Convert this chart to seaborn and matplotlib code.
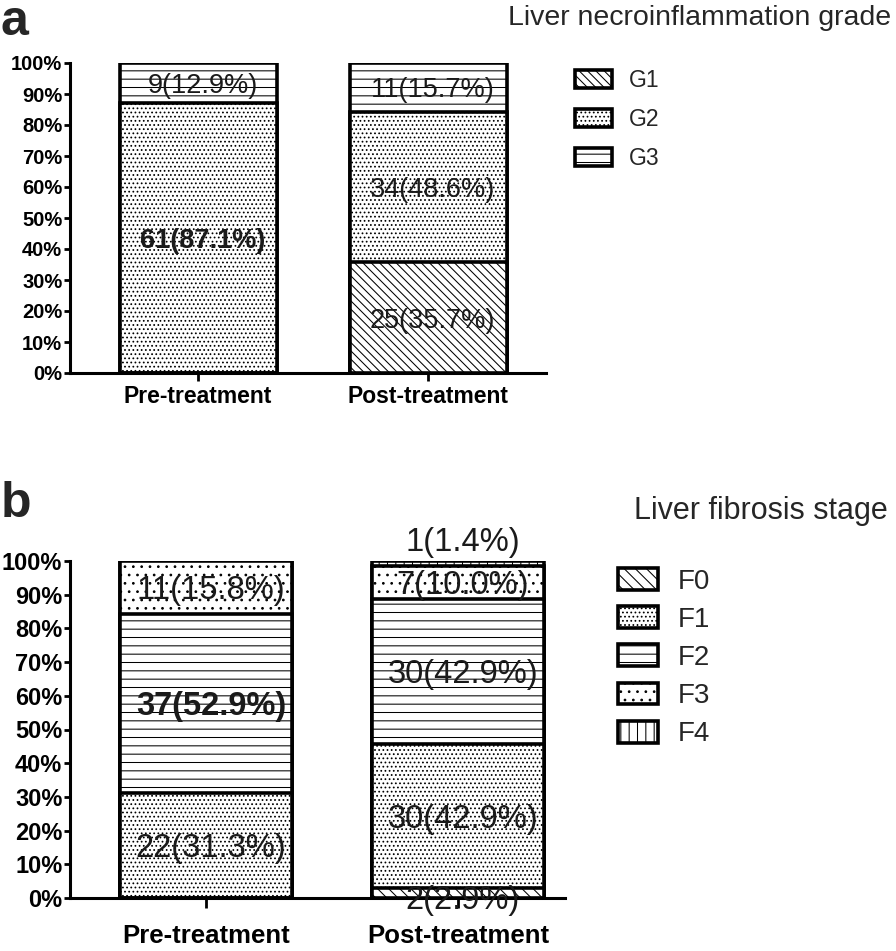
import numpy as np
import pandas as pd
import matplotlib
matplotlib.use("Agg")
import matplotlib.pyplot as plt
from matplotlib.patches import Patch
import seaborn as sns

# ---------------- data ----------------
groups = ["Pre-treatment", "Post-treatment"]

grade_layers = ["G1", "G2", "G3"]
grade_counts = {"G1": [0, 25], "G2": [61, 34], "G3": [9, 11]}
grade_pcts = {"G1": [0.0, 35.7], "G2": [87.1, 48.6], "G3": [12.9, 15.7]}

fib_layers = ["F0", "F1", "F2", "F3", "F4"]
fib_counts = {"F0": [0, 2], "F1": [22, 30], "F2": [37, 30], "F3": [11, 7], "F4": [0, 1]}
fib_pcts = {"F0": [0.0, 2.9], "F1": [31.3, 42.9], "F2": [52.9, 42.9], "F3": [15.8, 10.0], "F4": [0.0, 1.4]}

yticks = list(range(0, 101, 10))
ytick_labels = [f"{v}%" for v in yticks]

grade_title = "Liver necroinflammation grade"
fib_title = "Liver fibrosis stage"

# ---------------- style ----------------
sns.set_style("ticks")
plt.rcParams["font.family"] = ["Liberation Sans", "DejaVu Sans"]
plt.rcParams["hatch.linewidth"] = 0.75
plt.rcParams["hatch.color"] = "black"

hatches_grade = {"G1": "\\\\\\\\", "G2": "....", "G3": "--"}
hatches_fib = {"F0": "\\\\\\", "F1": "....", "F2": "--", "F3": "..", "F4": "||"}

W, H = 896, 951
fig = plt.figure(figsize=(W / 100, H / 100), dpi=100)


def fx(px):
    return px / W


def fy(py):
    return 1 - py / H


ax_a = fig.add_axes([fx(70), fy(373), fx(546 - 70), (373 - 63) / H])
ax_b = fig.add_axes([fx(70), fy(898), fx(565 - 70), (898 - 561) / H])

EDGE_LW = 2.6


def stacked(ax, layers, counts, pcts, hatches, width, label_fs):
    pct_arr = np.array([pcts[l] for l in layers])  # layers x groups
    cum = np.cumsum(pct_arr, axis=0)
    cum = cum / cum[-1] * 100  # labels are rounded; tops are 100 %
    # draw from the top cumulative down so lower segments overlay
    for i in range(len(layers) - 1, -1, -1):
        df = pd.DataFrame({"group": groups, "value": cum[i]})
        sns.barplot(data=df, x="group", y="value", order=groups, color="white",
                    edgecolor="black", linewidth=EDGE_LW, hatch=hatches[layers[i]],
                    width=width, saturation=1, errorbar=None, ax=ax, zorder=2)
    for g in range(len(groups)):
        col = pct_arr[:, g]
        largest = int(np.argmax(col))
        for i, l in enumerate(layers):
            c = counts[l][g]
            if c == 0:
                continue
            bottom = cum[i - 1][g] if i > 0 else 0.0
            top = cum[i][g]
            if top - bottom < 2.0:
                y = top + 5.5
            elif top - bottom < 4.0 and i == 0:
                y = bottom - 0.6
            else:
                y = (bottom + top) / 2 - 1.0
            bold = (g == 0 and i == largest)
            txt = f"{c}({pcts[l][g]:.1f}%)"
            ax.text(g + 0.02, y, txt, ha="center", va="center", fontsize=label_fs,
                    fontweight="bold" if bold else "normal", color="#1a1a1a",
                    zorder=5, clip_on=False)


def style_axis(ax, xlim, ytick_fs, xtick_fs, xlen, xpad):
    ax.set_ylim(0, 100)
    ax.set_xlim(*xlim)
    ax.set_yticks(yticks)
    ax.set_yticklabels(ytick_labels, fontsize=ytick_fs, fontweight="bold")
    ax.set_xticks(range(len(groups)))
    ax.set_xticklabels(groups, fontsize=xtick_fs, fontweight="bold")
    ax.set_xlabel("")
    ax.set_ylabel("")
    for s in ["top", "right"]:
        ax.spines[s].set_visible(False)
    for s in ["left", "bottom"]:
        ax.spines[s].set_linewidth(2.2)
        ax.spines[s].set_color("black")
        ax.spines[s].set_zorder(1)
    ax.tick_params(axis="y", length=4, width=2.0, pad=1.5, colors="black")
    ax.tick_params(axis="x", length=xlen, width=2.0, pad=xpad, colors="black")
    ax.set_facecolor("white")


stacked(ax_a, grade_layers, grade_counts, grade_pcts, hatches_grade, width=0.683, label_fs=19.5)
style_axis(ax_a, (-0.557, 1.513), ytick_fs=14.5, xtick_fs=16.5, xlen=6, xpad=2.5)

stacked(ax_b, fib_layers, fib_counts, fib_pcts, hatches_fib, width=0.68, label_fs=23.5)
style_axis(ax_b, (-0.54, 1.425), ytick_fs=17, xtick_fs=18.5, xlen=7, xpad=12)

# panel letters
fig.text(fx(1), fy(35), "a", fontsize=36, fontweight="bold", ha="left", va="baseline")
fig.text(fx(1), fy(517), "b", fontsize=36, fontweight="bold", ha="left", va="baseline")

# titles
fig.text(fx(891), fy(25), grade_title, fontsize=20.5, ha="right", va="baseline")
fig.text(fx(888), fy(519), fib_title, fontsize=22, ha="right", va="baseline")


def make_legend(ax, layers, hatches, left_px, top_px, fs, hl, hh, tp, ls):
    handles = [Patch(facecolor="white", edgecolor="black", linewidth=2.6,
                     hatch=hatches[l], label=l) for l in layers]
    return ax.legend(handles=handles, loc="upper left",
                     bbox_to_anchor=(fx(left_px), fy(top_px)),
                     bbox_transform=fig.transFigure, frameon=False,
                     fontsize=fs, handlelength=hl, handleheight=hh,
                     handletextpad=tp, labelspacing=ls, borderpad=0,
                     borderaxespad=0)


make_legend(ax_a, grade_layers, hatches_grade, 575, 69, 16.5, 1.62, 0.87, 0.72, 0.7)
make_legend(ax_b, fib_layers, hatches_fib, 618, 568, 20, 1.44, 0.83, 0.72, 0.42)

fig.savefig("out.png", dpi=100, facecolor="white")
